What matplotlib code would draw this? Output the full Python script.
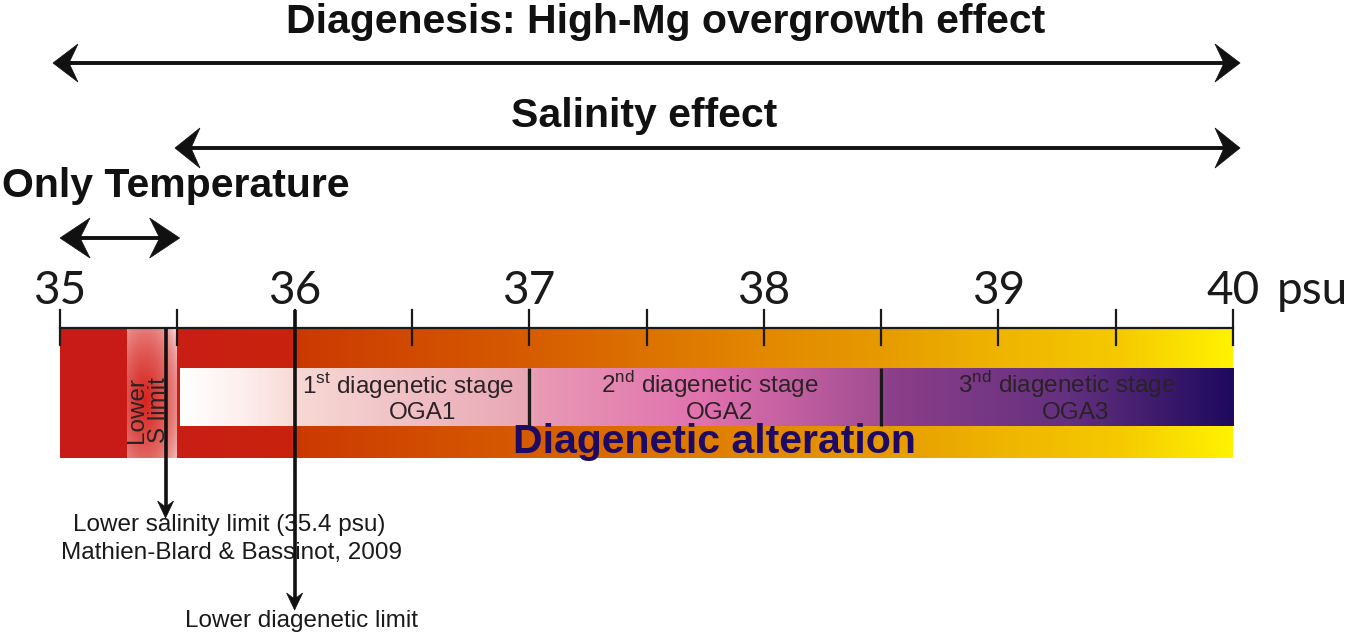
import numpy as np
import matplotlib
matplotlib.use("Agg")
import matplotlib.pyplot as plt
from matplotlib.colors import LinearSegmentedColormap
from matplotlib.patches import Polygon, Rectangle

plt.rcParams['mathtext.fontset'] = 'custom'
plt.rcParams['mathtext.rm'] = 'Liberation Sans'

# ---------------- data ----------------
major_ticks = [35, 36, 37, 38, 39, 40]
major_labels = ["35", "36", "37", "38", "39", "40"]
minor_ticks = [35.5, 36.5, 37.5, 38.5, 39.5]
unit_label = "psu"

bar_start = 35.0
temp_only_end = 35.285          # end of solid red block
salinity_start = 35.5           # start of main gradient bar
bar_end = 40.0

stage_bounds = [35.5, 37.0, 38.5, 40.0]
stage_titles = [r"1$^{\rm st}$ diagenetic stage",
                r"2$^{\rm nd}$ diagenetic stage",
                r"3$^{\rm nd}$ diagenetic stage"]
stage_codes = ["OGA1", "OGA2", "OGA3"]
stage_title_x = [36.483, 37.77, 39.29]
stage_code_x = [36.545, 37.81, 39.33]

lower_s_limit = 35.45
lower_diag_limit = 36.0

effect_names = ["Diagenesis: High-Mg overgrowth effect", "Salinity effect", "Only Temperature"]
effect_ranges = [(34.97, 40.03), (35.49, 40.03), (35.0, 35.51)]

# gradient colour stops (psu, colour)
outer_stops = [(35.5, "#c81e14"), (35.98, "#c8230f"), (36.02, "#cc3a02"), (37.0, "#d65c00"),
               (38.0, "#e38800"), (38.5, "#e69a00"), (39.0, "#efb400"), (39.5, "#f5c800"),
               (40.0, "#fff200")]
inner_stops = [(35.5, "#ffffff"), (35.75, "#fdf0ee"), (36.0, "#f7d8d4"), (37.0, "#e8a6b4"),
               (37.02, "#e89ab4"), (37.75, "#e070ae"), (38.5, "#a24d92"),
               (38.52, "#8d3f8a"), (39.3, "#64307f"), (40.0, "#1e0a5e")]

# ---------------- figure ----------------
W, H = 1353, 636
fig = plt.figure(figsize=(W / 100, H / 100), dpi=100)
ax = fig.add_axes([0, 0, 1, 1])
xmin, xmax = 34.7442, 40.5115
ax.set_xlim(xmin, xmax)
ax.set_ylim(H, 0)
ax.axis("off")
pxu = W / (xmax - xmin)  # pixels per psu

axis_y = 328
bar_top, bar_bot = 328, 458
in_top, in_bot = 368, 426


def grad_cmap(stops, lo, hi, name):
    pos = [(p - lo) / (hi - lo) for p, _ in stops]
    return LinearSegmentedColormap.from_list(name, list(zip(pos, [c for _, c in stops])))


# solid red block
ax.add_patch(Rectangle((bar_start, bar_top), temp_only_end - bar_start, bar_bot - bar_top,
                       facecolor="#c81a16", edgecolor="none", zorder=1))

# radial glow around lower salinity limit
nx, ny = 80, 160
gx = np.linspace(temp_only_end, salinity_start, nx)
gy = np.linspace(bar_top, bar_bot, ny)
GX, GY = np.meshgrid(gx, gy)
cx, cy = 35.36, 400
r = np.sqrt(((GX - cx) * pxu / 42.0) ** 2 + ((GY - cy) / 105.0) ** 2)
a = np.clip(1 - r, 0, 1) ** 0.45
red = np.array([0.84, 0.14, 0.12])
img = np.ones((ny, nx, 3)) * (1 - a[..., None]) + red * a[..., None]
ax.imshow(img, extent=(temp_only_end, salinity_start, bar_bot, bar_top), aspect="auto",
          interpolation="bilinear", zorder=1)

# main outer gradient bar
cm_out = grad_cmap(outer_stops, salinity_start, bar_end, "outer")
g = np.linspace(0, 1, 512)[None, :]
ax.imshow(g, cmap=cm_out, extent=(salinity_start, bar_end, bar_bot, bar_top), aspect="auto",
          interpolation="bilinear", zorder=1)

# inner stage stripe
cm_in = grad_cmap(inner_stops, stage_bounds[0], stage_bounds[-1], "inner")
ax.imshow(g, cmap=cm_in, extent=(stage_bounds[0] + 0.01, stage_bounds[-1], in_bot, in_top),
          aspect="auto", interpolation="bilinear", zorder=2)

# stage dividers
for b in stage_bounds[1:-1]:
    ax.plot([b, b], [in_top, in_bot], color="#1a1a1a", lw=2.4, zorder=3, solid_capstyle="butt")

# stage labels
for t, c, xt, xc in zip(stage_titles, stage_codes, stage_title_x, stage_code_x):
    ax.text(xt, 385, t, ha="center", va="center", fontsize=17.5, family="Liberation Sans",
            color="#2a2224", zorder=4)
    ax.text(xc, 413, c, ha="center", va="center", fontsize=17.5, family="Liberation Sans",
            color="#2a2224", zorder=4)

ax.text(37.79, 453, "Diagenetic alteration", ha="center", va="baseline", fontsize=29.5,
        fontweight="bold", family="Liberation Sans", color="#1e0a64", zorder=4)

ax.text(35.375, 410, "Lower\nS limit", rotation=90, ha="center", va="center", fontsize=17.5,
        family="Liberation Sans", color="#2a2224", linespacing=0.95, zorder=4)

# axis line and ticks
ax.plot([major_ticks[0], major_ticks[-1]], [axis_y, axis_y], color="#1a1a1a", lw=1.6, zorder=5)
for t in major_ticks + minor_ticks:
    ax.plot([t, t], [310, 345], color="#1a1a1a", lw=1.6, zorder=5)
for t, l in zip(major_ticks, major_labels):
    ax.text(t, 304, l, ha="center", va="baseline", fontsize=33, family="Lato",
            fontweight="normal", color="#1a1a1a")
ax.text(40.187, 304, unit_label, ha="left", va="baseline", fontsize=33, family="Lato",
        fontweight="normal", color="#1a1a1a")


def head(x_tip, y_tip, direction, L, Wd, N, horizontal=True):
    """stealth-shaped arrow head, lengths in pixels."""
    if horizontal:
        d = direction * 1.0 / pxu
        pts = [(x_tip, y_tip), (x_tip + d * L, y_tip - Wd), (x_tip + d * N, y_tip),
               (x_tip + d * L, y_tip + Wd)]
    else:
        pts = [(x_tip, y_tip), (x_tip - Wd / pxu, y_tip - direction * L),
               (x_tip, y_tip - direction * N), (x_tip + Wd / pxu, y_tip - direction * L)]
    ax.add_patch(Polygon(pts, closed=True, facecolor="#111111", edgecolor="#111111",
                         lw=0.5, zorder=6))


# vertical limit arrows
for xv, y0, y1 in [(lower_s_limit, bar_top, 518), (lower_diag_limit, 310, 610)]:
    ax.plot([xv, xv], [y0, y1 - 8], color="#111111", lw=2.6, zorder=6, solid_capstyle="butt")
    head(xv, y1, 1, 17, 8, 11, horizontal=False)

ax.text(35.72, 525, "Lower salinity limit (35.4 psu)", ha="center", va="center", fontsize=17.5,
        family="Liberation Sans", color="#1a1a1a")
ax.text(35.73, 553, "Mathien-Blard & Bassinot, 2009", ha="center", va="center", fontsize=17.5,
        family="Liberation Sans", color="#1a1a1a")
ax.text(36.03, 621, "Lower diagenetic limit", ha="center", va="center", fontsize=17.5,
        family="Liberation Sans", color="#1a1a1a")

# effect arrows
arrow_y = [63, 148, 238]
head_dims = [(25, 19, 16), (25, 20, 16), (30, 20, 20)]
label_pos = [(37.58, 33, "center"), (37.49, 127, "center"), (34.753, 197, "left")]
for name, (x0, x1), yy, (L, Wd, N), (lx, ly, ha) in zip(effect_names, effect_ranges, arrow_y,
                                                         head_dims, label_pos):
    ax.plot([x0 + N / pxu, x1 - N / pxu], [yy, yy], color="#111111", lw=2.8, zorder=6)
    head(x0, yy, 1, L, Wd, N)
    head(x1, yy, -1, L, Wd, N)
    ax.text(lx, ly, name, ha=ha, va="baseline", fontsize=29.5, fontweight="bold",
            family="Liberation Sans", color="#111111")

fig.savefig("out.png", dpi=100, facecolor="white")
